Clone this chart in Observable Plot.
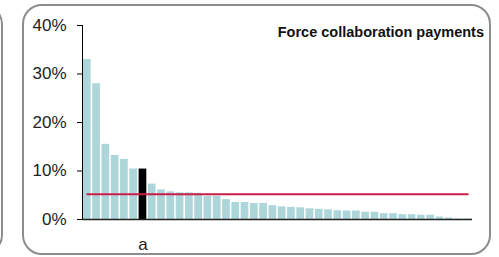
<!DOCTYPE html>
<html>
<head>
<meta charset="utf-8">
<script src="https://cdn.jsdelivr.net/npm/d3@7"></script>
<script src="https://cdn.jsdelivr.net/npm/@observablehq/plot@0.6"></script>
<style>
  html, body { margin: 0; padding: 0; background: #fff; }
  #wrap { position: relative; width: 499px; height: 257px; overflow: hidden; font-family: Arial, "Liberation Sans", sans-serif; }
  .panel { position: absolute; box-sizing: border-box; border: 2px solid #8c8c8c; border-radius: 20px; }
  #title { position: absolute; right: 15px; top: 24px; font-size: 14.5px; font-weight: bold; color: #111; white-space: pre; }
  #chart { position: absolute; left: 0; top: 0; }
</style>
</head>
<body>
<div id="wrap">
  <div class="panel" style="left:-40px; top:4px; width:43px; height:251px;"></div>
  <div class="panel" style="left:22px; top:4px; width:469px; height:251px;"></div>
  <div id="chart"></div>
  <div id="title">Force collaboration payments</div>
</div>
<script>
const titleText = "Force collaboration payments";
const categories = ["F1","F2","F3","F4","F5","F6","F7","F8","F9","F10","F11","F12","F13","F14","F15","F16","F17","F18","F19","F20","F21","F22","F23","F24","F25","F26","F27","F28","F29","F30","F31","F32","F33","F34","F35","F36","F37","F38","F39","F40","F41","F42"];
const values = [33.0, 28.0, 15.5, 13.2, 12.4, 10.4, 10.4, 7.3, 6.1, 5.7, 5.5, 5.5, 5.4, 4.8, 4.8, 4.1, 3.5, 3.5, 3.3, 3.3, 2.85, 2.6, 2.5, 2.4, 2.2, 2.1, 2.0, 1.8, 1.75, 1.75, 1.5, 1.5, 1.2, 1.2, 1.0, 1.0, 0.87, 0.87, 0.5, 0.3, 0.1, 0.1];
const highlight = "F7";
const highlightLabel = "a";
const average = 5.2;
const yTicks = [0, 10, 20, 30, 40];

const data = categories.map((c, i) => ({cat: c, v: values[i]}));
const avgLine = categories.map(c => ({cat: c, v: average}));

const chart = Plot.plot({
  width: 499,
  height: 257,
  marginLeft: 82,
  marginRight: 27,
  marginTop: 25,
  marginBottom: 38,
  style: {fontFamily: "Arial, 'Liberation Sans', sans-serif", fontSize: "17px", color: "#222", background: "transparent", overflow: "visible"},
  x: {domain: categories, paddingInner: 0.17, paddingOuter: 0.1, round: false},
  y: {domain: [0, 40]},
  marks: [
    Plot.barY(data.filter(d => d.cat !== highlight), {x: "cat", y: "v", fill: "#acd6da"}),
    Plot.barY(data.filter(d => d.cat === highlight), {x: "cat", y: "v", fill: "#000"}),
    Plot.ruleY([0], {stroke: "#222", strokeWidth: 1.5}),
    Plot.lineY(avgLine, {x: "cat", y: "v", stroke: "#cc1e48", strokeWidth: 2}),
    Plot.axisY({ticks: yTicks, tickSize: 5, tickPadding: 11, tickFormat: d => d + "%", stroke: "#000", label: null}),
    Plot.axisX({ticks: [highlight], tickSize: 0, tickPadding: 18, tickFormat: () => highlightLabel, label: null}),
    Plot.frame({anchor: "left", stroke: "#000"})
  ]
});
document.getElementById("chart").appendChild(chart);
document.getElementById("title").textContent = titleText;
</script>
</body>
</html>
